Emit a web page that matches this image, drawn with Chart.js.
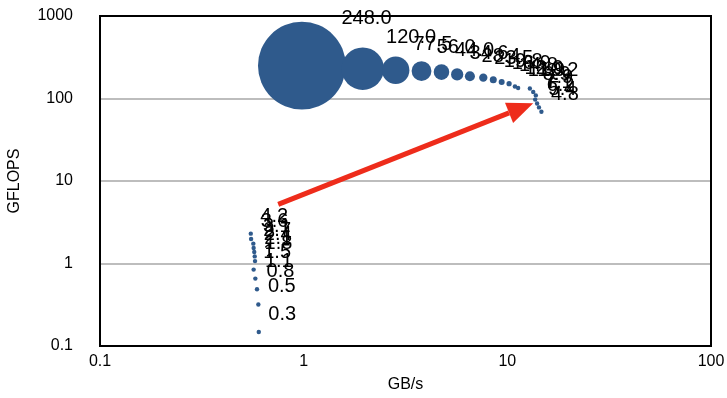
<!DOCTYPE html>
<html lang="en">
<head>
  <meta charset="UTF-8">
  <title>GFLOPS vs GB/s</title>
  <script src="https://cdn.jsdelivr.net/npm/chart.js@4.4.0/dist/chart.umd.min.js"></script>
  <style>
    html, body { margin: 0; padding: 0; background: #fff; }
    #wrap { width: 727px; height: 398px; }
  </style>
</head>
<body>
<div id="wrap"><canvas id="bubble-chart"></canvas></div>

<script>
  // upper cluster (large problem sizes)
  var upperGBs    = [0.98, 1.95, 2.83, 3.79, 4.75, 5.67, 6.55, 7.62, 8.53, 9.38, 10.2, 10.9, 11.3, 12.9, 13.4, 13.8, 13.7, 14.0, 14.3, 14.7];
  var upperGflops = [250, 230, 220, 215, 209, 196, 186, 179, 169, 158, 151, 140, 134, 132, 120, 109, 97, 87, 78, 69];
  var upperLabels = [248.0, 120.0, 77.5, 56.0, 44.0, 34.6, 28.4, 23.5, 19.8, 16.9, 14.8, 12.9, 11.9, 10.2, 8.9, 7.9, 7.1, 6.2, 5.4, 4.8];

  // lower cluster
  var lowerGBs    = [0.550, 0.552, 0.566, 0.568, 0.572, 0.575, 0.577, 0.568, 0.579, 0.590, 0.599, 0.602];
  var lowerGflops = [2.30, 1.98, 1.74, 1.54, 1.38, 1.22, 1.07, 0.843, 0.656, 0.487, 0.318, 0.148];
  var lowerLabels = [4.2, 3.6, 3.1, 2.7, 2.4, 2.1, 1.8, 1.5, 1.1, 0.8, 0.5, 0.3];

  var axisTicks = [0.1, 1, 10, 100, 1000];
  var xTicks = [0.1, 1, 10, 100];

  // arrow from lower to upper cluster, in data units
  var arrowFrom = { x: 0.75, y: 5.2 };
  var arrowTo = { x: 13.4, y: 87.5 };

  var blue = '#2f5a8c';
  var red = '#ee2c1b';
  var fontFamily = '"Liberation Sans", Arial, Helvetica, sans-serif';

  function bubbleRadius(v) {
    return Math.max(2.2, v * 0.177);
  }

  function buildPoints(xs, ys, labels) {
    return xs.map(function (x, i) {
      return { x: x, y: ys[i], r: bubbleRadius(labels[i]), label: labels[i] };
    });
  }

  var framePlugin = {
    id: 'frame',
    beforeDatasetsDraw: function (chart) {
      var a = chart.chartArea;
      var ctx = chart.ctx;
      ctx.save();
      ctx.strokeStyle = '#000';
      ctx.lineWidth = 2;
      ctx.strokeRect(a.left, a.top, a.right - a.left, a.bottom - a.top);
      ctx.restore();
    }
  };

  var arrowPlugin = {
    id: 'arrow',
    beforeDatasetsDraw: function (chart) {
      var xs = chart.scales.x, ys = chart.scales.y;
      var x1 = xs.getPixelForValue(arrowFrom.x), y1 = ys.getPixelForValue(arrowFrom.y);
      var x2 = xs.getPixelForValue(arrowTo.x), y2 = ys.getPixelForValue(arrowTo.y);
      var ang = Math.atan2(y2 - y1, x2 - x1);
      var headLen = 26, headHalf = 11;
      var bx = x2 - headLen * Math.cos(ang), by = y2 - headLen * Math.sin(ang);
      var ctx = chart.ctx;
      ctx.save();
      ctx.strokeStyle = red;
      ctx.fillStyle = red;
      ctx.lineWidth = 5;
      ctx.beginPath();
      ctx.moveTo(x1, y1);
      ctx.lineTo(bx, by);
      ctx.stroke();
      ctx.beginPath();
      ctx.moveTo(x2, y2);
      ctx.lineTo(bx + headHalf * Math.sin(ang), by - headHalf * Math.cos(ang));
      ctx.lineTo(bx - headHalf * Math.sin(ang), by + headHalf * Math.cos(ang));
      ctx.closePath();
      ctx.fill();
      ctx.restore();
    }
  };

  var labelPlugin = {
    id: 'pointLabels',
    afterDatasetsDraw: function (chart) {
      var ctx = chart.ctx;
      ctx.save();
      ctx.fillStyle = '#000';
      ctx.font = '20px ' + fontFamily;
      ctx.textAlign = 'left';
      ctx.textBaseline = 'middle';
      chart.data.datasets.forEach(function (ds, di) {
        var meta = chart.getDatasetMeta(di);
        meta.data.forEach(function (el, i) {
          var r = el.options.radius;
          var txt = ds.data[i].label.toFixed(1);
          ctx.fillText(txt, el.x + 0.72 * r + 8, el.y - 0.72 * r - 16);
        });
      });
      ctx.restore();
    }
  };

  Chart.defaults.font.family = fontFamily;
  Chart.defaults.color = '#000';

  var ctx1 = document.getElementById('bubble-chart').getContext('2d');
  var myChart1 = new Chart(ctx1, {
    type: 'bubble',
    data: {
      datasets: [{
        label: 'upper',
        data: buildPoints(upperGBs, upperGflops, upperLabels),
        backgroundColor: blue,
        borderWidth: 0
      }, {
        label: 'lower',
        data: buildPoints(lowerGBs, lowerGflops, lowerLabels),
        backgroundColor: blue,
        borderWidth: 0
      }]
    },
    options: {
      responsive: true,
      maintainAspectRatio: false,
      animation: false,
      events: [],
      layout: { autoPadding: false, padding: { top: 16, right: 16, left: 0, bottom: 0 } },
      plugins: {
        legend: { display: false },
        tooltip: { enabled: false }
      },
      scales: {
        x: {
          type: 'logarithmic',
          min: 0.1,
          max: 100,
          afterBuildTicks: function (scale) {
            scale.ticks = xTicks.map(function (v) { return { value: v }; });
          },
          afterFit: function (scale) {
            scale.height = 52;
            scale.paddingLeft = 0;
            scale.paddingRight = 0;
          },
          grid: { display: false },
          border: { display: false },
          ticks: {
            padding: -2,
            maxRotation: 0,
            font: { size: 16 },
            callback: function (v) { return String(v); }
          },
          title: {
            display: true,
            text: 'GB/s',
            font: { size: 16 },
            padding: { top: 0, bottom: 4 }
          }
        },
        y: {
          type: 'logarithmic',
          min: 0.1,
          max: 1000,
          afterBuildTicks: function (scale) {
            scale.ticks = axisTicks.map(function (v) { return { value: v }; });
          },
          afterFit: function (scale) {
            scale.width = 100;
            scale.paddingTop = 0;
            scale.paddingBottom = 0;
          },
          grid: { color: '#bdbdbd', lineWidth: 2, drawTicks: false },
          border: { display: false },
          ticks: {
            padding: 27,
            font: { size: 16 },
            callback: function (v) { return String(v); }
          },
          title: {
            display: true,
            text: 'GFLOPS',
            font: { size: 16 },
            padding: { top: 5, bottom: 0 }
          }
        }
      }
    },
    plugins: [framePlugin, arrowPlugin, labelPlugin]
  });
</script>

</body>
</html>
